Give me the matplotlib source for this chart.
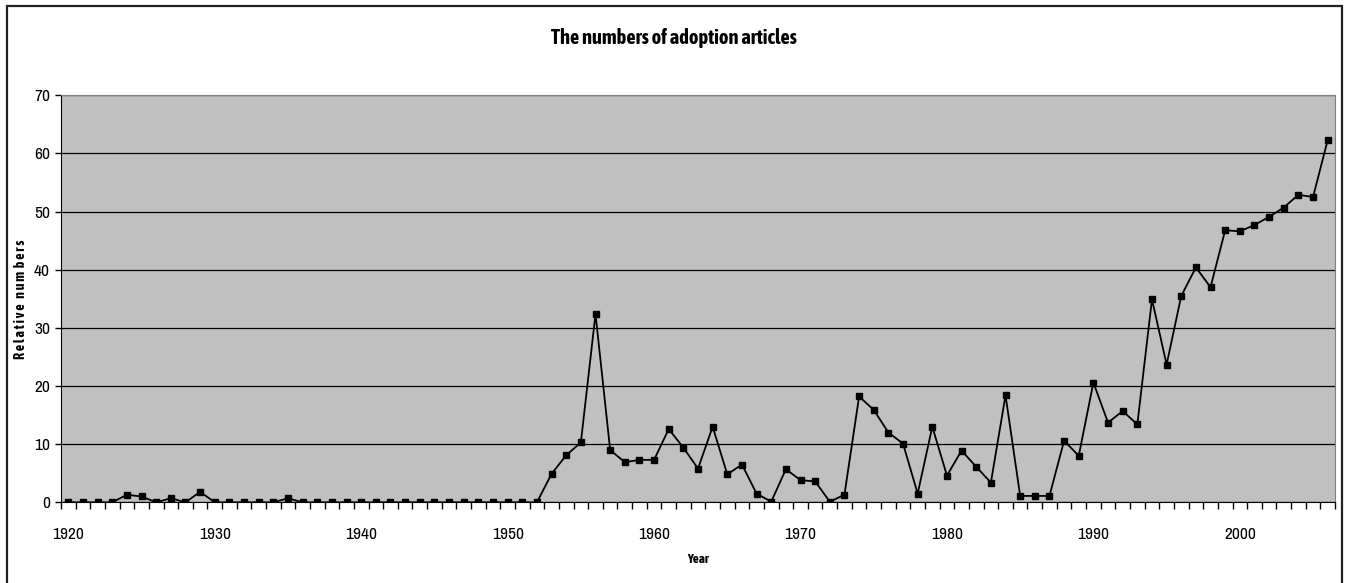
import matplotlib
matplotlib.use("Agg")
from matplotlib import pyplot as plt
from matplotlib import font_manager
from matplotlib.patches import Rectangle
import numpy as np

years = np.arange(1920, 2007)
numbers = [0, 0, 0, 0, 1.3, 1.0, 0, 0.7, 0, 1.8,
           0, 0, 0, 0, 0, 0.7, 0, 0, 0, 0,
           0, 0, 0, 0, 0, 0, 0, 0, 0, 0,
           0, 0, 0, 4.9, 8.1, 10.3, 32.4, 9.0, 6.9, 7.3,
           7.3, 12.6, 9.4, 5.8, 13.0, 4.8, 6.5, 1.5, 0.1, 5.7,
           3.8, 3.6, 0.1, 1.3, 18.2, 15.9, 12.0, 10.1, 1.5, 13.0,
           4.6, 8.9, 6.1, 3.4, 18.4, 1.1, 1.1, 1.1, 10.6, 8.0,
           20.6, 13.7, 15.7, 13.4, 34.9, 23.7, 35.5, 40.4, 37.0, 46.8,
           46.6, 47.7, 49.1, 50.7, 52.9, 52.5, 62.3]
label_years = [1920, 1930, 1940, 1950, 1960, 1970, 1980, 1990, 2000]
yticks = [0, 10, 20, 30, 40, 50, 60, 70]


def weight_num(w):
    if isinstance(w, str):
        return font_manager.weight_dict.get(w, 400)
    return w


# look for a narrow sans font, like Arial Narrow in the original
fonts = font_manager.fontManager.ttflist
narrow_names = sorted(set(f.name for f in fonts if 'Narrow' in f.name or 'Condensed' in f.name))
bold_narrow = sorted(set(f.name for f in fonts if f.name in narrow_names
                         and weight_num(f.weight) >= 600))
narrow = narrow_names[:1] + ['Liberation Sans', 'DejaVu Sans']
narrow_b = bold_narrow[:1] + ['Liberation Sans', 'DejaVu Sans']

fig = plt.figure(figsize=(13.47, 5.83), dpi=100)
ax = fig.add_axes([0.0453, 0.1384, 0.9458, 0.6981])
ax.set_facecolor('#c0c0c0')

idx = np.arange(len(years))
ax.plot(idx, numbers, '-s', color='black', lw=1.3, ms=4.4, mfc='black', mec='black')

ax.set_xlim(-0.5, len(years) - 0.5)
ax.set_ylim(0, 70)
ax.set_yticks(yticks)
ax.set_yticklabels([str(v) for v in yticks], family=narrow, fontsize=12.5)
ax.set_xticks([list(years).index(y) for y in label_years])
ax.set_xticklabels([str(y) for y in label_years], family=narrow, fontsize=12.5)
ax.set_xticks(np.arange(len(years) + 1) - 0.5, minor=True)
ax.tick_params(axis='x', which='major', length=0, pad=18)
ax.tick_params(axis='x', which='minor', length=5, width=1, direction='out', color='black')
ax.tick_params(axis='y', length=4, width=1, pad=4, color='black')

ax.grid(axis='y', color='black', lw=0.9)
ax.set_axisbelow(True)
ax.spines['left'].set_color('black')
ax.spines['bottom'].set_color('black')
ax.spines['top'].set_color('#808080')
ax.spines['right'].set_color('#808080')

ax.set_xlabel('Year', family=narrow_b, fontsize=9.5, fontweight='bold', labelpad=8)
ax.set_ylabel('R e l a t i v e   n u m  b e r s', family=narrow_b, fontsize=10,
              fontweight='bold')
ax.yaxis.set_label_coords(-0.026, 0.5)
fig.text(0.5, 0.935, 'The numbers of adoption articles', ha='center', va='center',
         family=narrow_b, fontsize=14.7, fontweight='bold')

fig.add_artist(Rectangle((0.0052, -0.02), 0.9911, 1.0097, transform=fig.transFigure,
                         fill=False, ec='#222222', lw=1.6))

fig.savefig('out.png', dpi=100)
